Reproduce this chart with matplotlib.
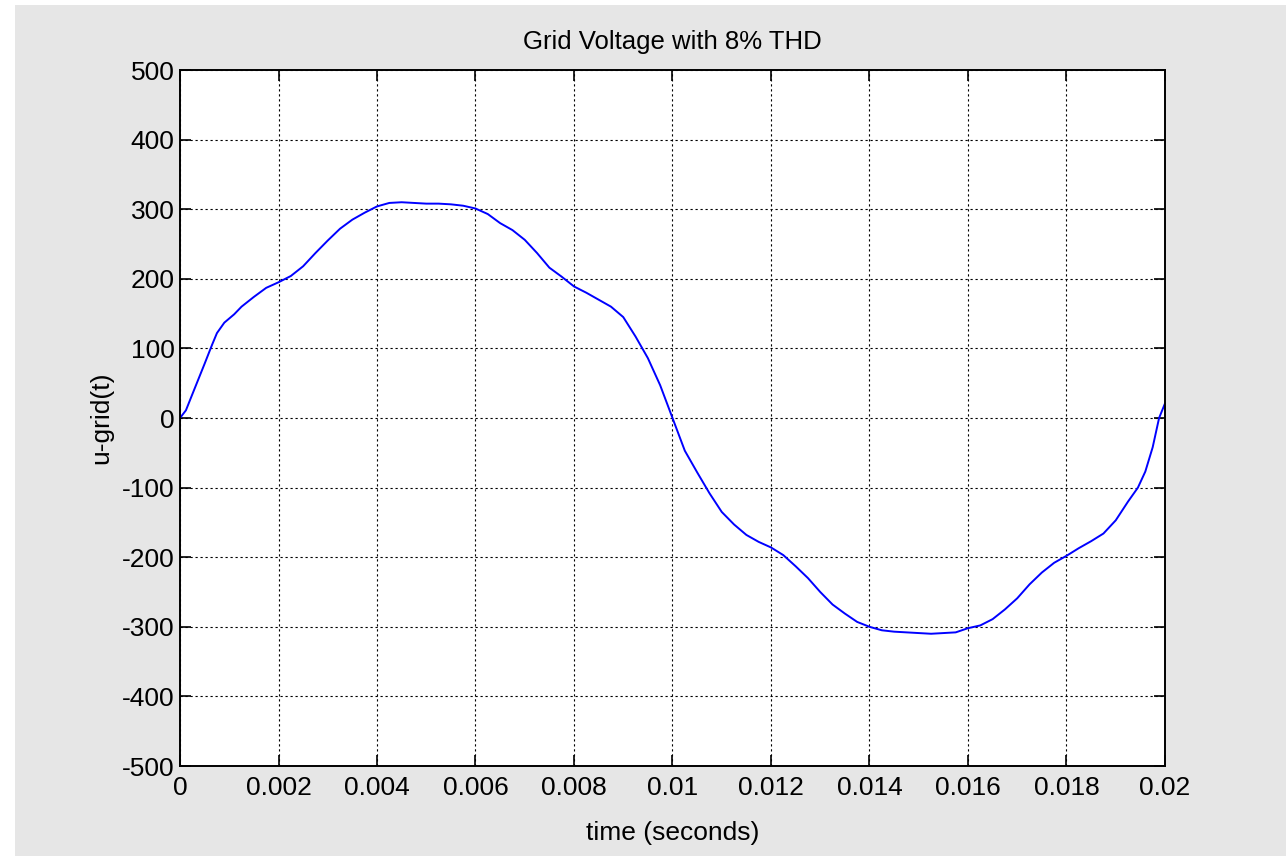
import matplotlib
matplotlib.use("Agg")
import matplotlib.pyplot as plt
from matplotlib.patches import Rectangle

# values (time in ms, voltage in V)
t_ms = [0, 0.12, 0.25, 0.5, 0.65, 0.75, 0.9, 1.1, 1.25, 1.5, 1.75, 2.0, 2.25, 2.5,
        2.75, 3.0, 3.25, 3.5, 3.75, 4.0, 4.25, 4.5, 4.75, 5.0, 5.25, 5.5, 5.75,
        6.0, 6.25, 6.5, 6.75, 7.0, 7.25, 7.5, 7.75, 8.0, 8.25, 8.5, 8.75, 9.0,
        9.25, 9.5, 9.75, 10.0, 10.25, 10.5, 10.75, 11.0, 11.25, 11.5, 11.75,
        12.0, 12.25, 12.5, 12.75, 13.0, 13.25, 13.5, 13.75, 14.0, 14.25, 14.5,
        14.75, 15.0, 15.25, 15.5, 15.75, 16.0, 16.25, 16.5, 16.75, 17.0, 17.25,
        17.5, 17.75, 18.0, 18.25, 18.5, 18.75, 19.0, 19.25, 19.45, 19.6, 19.75,
        19.88, 20.0]
u_grid = [0, 11, 34, 78, 105, 122, 137, 149, 160, 174, 187, 195, 204, 218,
          237, 255, 272, 285, 295, 304, 309, 310, 309, 308, 308, 307, 305,
          301, 293, 280, 270, 256, 237, 216, 203, 189, 180, 170, 160, 145,
          117, 86, 47, 0, -47, -78, -108, -135, -153, -168, -178,
          -186, -197, -213, -230, -250, -268, -281, -293, -300, -305, -307,
          -308, -309, -310, -309, -308, -302, -298, -289, -275, -259, -239,
          -222, -208, -198, -187, -177, -166, -147, -120, -100, -77, -42,
          0, 21]

x_ticks = [0, 0.002, 0.004, 0.006, 0.008, 0.01, 0.012, 0.014, 0.016, 0.018, 0.02]
x_labels = ['0', '0.002', '0.004', '0.006', '0.008', '0.01', '0.012', '0.014',
            '0.016', '0.018', '0.02']
y_ticks = [-500, -400, -300, -200, -100, 0, 100, 200, 300, 400, 500]

t = [v / 1000.0 for v in t_ms]

plt.rcParams['font.family'] = ['Liberation Sans', 'DejaVu Sans']
plt.rcParams['axes.unicode_minus'] = False

fig = plt.figure(figsize=(12.86, 8.56), dpi=100, facecolor='white')
# gray figure area with thin white strip on top/left, like the screenshot
fig.patches.append(Rectangle((15 / 1286, 0), 1, 1 - 5 / 856, transform=fig.transFigure,
                             facecolor='#e6e6e6', edgecolor='none', zorder=-10))

ax = fig.add_axes([180 / 1286, 1 - 766 / 856, 985 / 1286, 696 / 856])
ax.set_facecolor('white')
ax.plot(t, u_grid, color='#0000ff', lw=1.4)

ax.set_xlim(0, 0.02)
ax.set_ylim(-500, 500)
ax.set_xticks(x_ticks)
ax.set_xticklabels(x_labels)
ax.set_yticks(y_ticks)
ax.grid(True, color='black', linestyle=(0, (2, 2.5)), lw=0.8)
ax.tick_params(direction='in', length=8, width=1.2, top=True, right=True,
               labelsize=19, colors='black')
ax.tick_params(axis='x', pad=7)
ax.tick_params(axis='y', pad=4)
for s in ax.spines.values():
    s.set_linewidth(1.4)

ax.set_title('Grid Voltage with 8% THD', fontsize=18.5, pad=15)
ax.set_xlabel('time (seconds)', fontsize=19, labelpad=15)
ax.set_ylabel('u-grid(t)', fontsize=19, labelpad=6)

fig.savefig('out.png', dpi=100, facecolor=fig.get_facecolor())
